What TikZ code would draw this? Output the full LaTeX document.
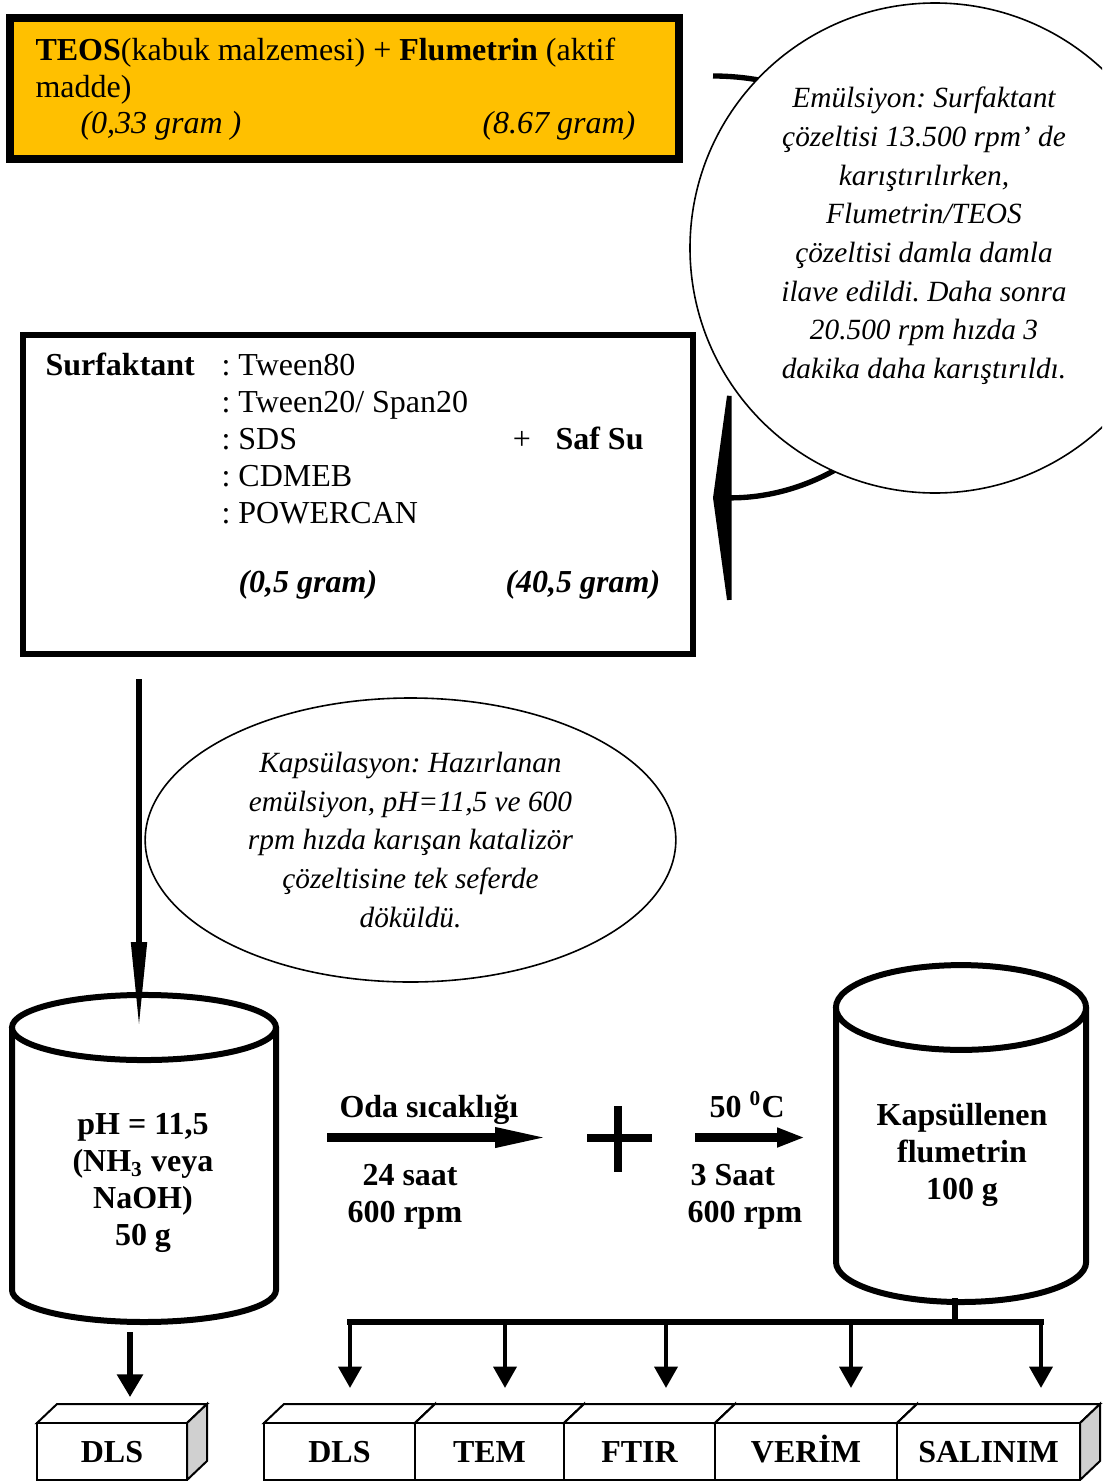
\documentclass[tikz,border=0pt]{standalone}
\usepackage{fontspec}
\setmainfont{Liberation Serif}
\usetikzlibrary{arrows.meta,shapes.geometric}
\definecolor{amber}{HTML}{FFC000}
\definecolor{sidegray}{HTML}{D0D0D0}
\frenchspacing

\begin{document}
\begin{tikzpicture}[x=0.375pt,y=0.375pt,font=\fontsize{12}{13.9}\selectfont]
\tikzstyle{tx}=[inner sep=0pt,anchor=base west]
\tikzstyle{bx}=[inner sep=0pt,anchor=base west,font=\fontsize{12}{13.9}\selectfont\bfseries]
\tikzstyle{itx}=[inner sep=0pt,align=center,font=\fontsize{11}{14.5}\selectfont\itshape]
\tikzstyle{drum}=[line width=2.25pt]
\tikzstyle{cube}=[draw,line width=0.75pt]
\tikzstyle{tap}=[line width=1.7pt,-{Triangle[length=8pt,width=8.5pt]}]
\tikzstyle{bus}=[line width=2.25pt,line cap=rect]
\useasboundingbox (0,0) rectangle (1102,-1481);
\node[draw,line width=3pt,fill=amber,minimum width=250.9pt,minimum height=52.9pt] (teos) at (344.5,-88.5) {};
\node[tx] (teos1) at (35,-60) {\textbf{TEOS}(kabuk malzemesi) + \textbf{Flumetrin} (aktif};
\node[tx] (teos2) at (35,-97) {madde)};
\node[tx,font=\fontsize{12}{13.9}\selectfont\itshape] (teos3) at (80,-133) {(0,33 gram )};
\node[tx,font=\fontsize{12}{13.9}\selectfont\itshape] (teos4) at (482,-133) {(8.67 gram)};
\node[draw,line width=2.25pt,minimum width=251.25pt,minimum height=119.6pt] (surf) at (358,-494.5) {};
\node[bx] (surf0) at (45,-375) {Surfaktant};
\node[tx] (surf1) at (221,-375) {: Tween80};
\node[tx] (surf2) at (221,-412) {: Tween20/ Span20};
\node[tx] (surf3) at (221,-449) {: SDS};
\node[tx] (surf4) at (221,-486) {: CDMEB};
\node[tx] (surf5) at (221,-523) {: POWERCAN};
\node[inner sep=0pt,anchor=base] (plus) at (522,-449) {+};
\node[bx] (su) at (555,-449) {Saf Su};
\node[bx,font=\fontsize{12}{13.9}\selectfont\bfseries\itshape] (surfg) at (238,-592) {(0,5 gram)};
\node[bx,font=\fontsize{12}{13.9}\selectfont\bfseries\itshape] (sug) at (505,-592) {(40,5 gram)};
\coordinate (bendS) at (713,-76);
\draw[line width=2pt,-{Triangle[length=7pt,width=102pt]}] (bendS) arc[start angle=90,end angle=-90,x radius=88.1pt,y radius=79.1pt];
\begin{scope}
\clip (0,0) rectangle (1102,-1481);
\node[draw,circle,fill=white,line width=0.6pt,minimum size=183.75pt,inner sep=0pt] (emul) at (935,-248) {};
\end{scope}
\node[itx] (emultx) at (924,-236) {Emülsiyon: Surfaktant\\çözeltisi 13.500 rpm’ de\\karıştırılırken,\\Flumetrin/TEOS\\çözeltisi damla damla\\ilave edildi. Daha sonra\\20.500 rpm hızda 3\\dakika daha karıştırıldı.};
\node[draw,ellipse,itx,line width=0.6pt,minimum width=199pt,minimum height=106.5pt] (kaps) at (410.5,-840) {Kapsülasyon: Hazırlanan\\emülsiyon, pH=11,5 ve 600\\rpm hızda karışan katalizör\\çözeltisine tek seferde\\döküldü.};
\draw[drum,fill=white] (12,-1027.5) -- (12,-1290) arc[start angle=180,end angle=360,x radius=49.5pt,y radius=12pt] -- (276,-1027.5);
\draw[drum,fill=white] (144,-1027.5) ellipse[x radius=49.5pt,y radius=12.2pt];
\node[align=center,inner sep=0pt,font=\fontsize{12}{13.9}\selectfont\bfseries] (cylL) at (143,-1183) {pH = 11,5\\(NH\textsubscript{3} veya\\NaOH)\\50 g};
\coordinate (drip0) at (139,-679);
\coordinate (drip1) at (139,-1030);
\draw[line width=2.25pt,-{Triangle[length=33pt,width=5.5pt]}] (drip0) -- (drip1);
\draw[drum,fill=white] (836,-1007.5) -- (836,-1262) arc[start angle=180,end angle=360,x radius=46.9pt,y radius=15pt] -- (1086,-1007.5);
\draw[drum,fill=white] (961,-1007.5) ellipse[x radius=46.9pt,y radius=15.9pt];
\node[align=center,inner sep=0pt,font=\fontsize{12}{13.9}\selectfont\bfseries] (cylR) at (962,-1155) {Kapsüllenen\\flumetrin\\100 g};
\coordinate (a1s) at (327,-1137.5);
\coordinate (a1e) at (550,-1137.5);
\draw[line width=3.4pt,-{Triangle[length=20.6pt,width=6.75pt]}] (a1s) -- (a1e);
\coordinate (a2s) at (695,-1137.5);
\coordinate (a2e) at (805,-1137.5);
\draw[line width=3.4pt,-{Triangle[length=10.5pt,width=6.75pt]}] (a2s) -- (a2e);
\draw[line width=3pt] (587,-1138) -- (652,-1138) (618,-1106) -- (618,-1172);
\node[bx] (oda) at (339,-1117) {Oda sıcaklığı};
\node[bx] (saat1) at (362,-1185) {24 saat};
\node[bx] (rpm1) at (347,-1222) {600 rpm};
\node[bx] (deg) at (709,-1117) {50 \textsuperscript{0}C};
\node[bx] (saat2) at (690,-1185) {3 Saat};
\node[bx] (rpm2) at (687,-1222) {600 rpm};
\coordinate (d0) at (130,-1332);
\coordinate (d1) at (130,-1397);
\draw[line width=1.9pt,-{Triangle[length=8.5pt,width=9.5pt]}] (d0) -- (d1);
\coordinate (cylRb) at (955,-1301);
\coordinate (stemB) at (955,-1322);
\draw[bus] (cylRb) -- (stemB);
\foreach \x [count=\i] in {350,505,666,851,1041} {\coordinate (b\i) at (\x,-1322); \coordinate (t\i) at (\x,-1388); \draw[tap] (b\i) -- (t\i);}
\draw[bus] (b1) -- (b5);
\foreach \l/\r/\t/\n in {37/187/DLS/m0,264/415/DLS/m1,415/564/TEM/m2,564/715/FTIR/m3,715/897/VERİM/m4,897/1080/SALINIM/m5}{
\pgfmathsetmacro\w{(\r-\l)*0.375}
\draw[cube,fill=white] (\l,-1423) -- (\l+20,-1404) -- (\r+20,-1404) -- (\r,-1423) -- cycle;
\draw[cube,fill=sidegray] (\r,-1423) -- (\r+20,-1404) -- (\r+20,-1461) -- (\r,-1480) -- cycle;
\node[cube,fill=white,minimum width=\w pt,minimum height=21.4pt,text height=7.9pt,text depth=0pt,font=\fontsize{12}{13.9}\selectfont\bfseries] (\n) at ({(\l+\r)/2},-1451.5) {\t};
}
\end{tikzpicture}
\end{document}
